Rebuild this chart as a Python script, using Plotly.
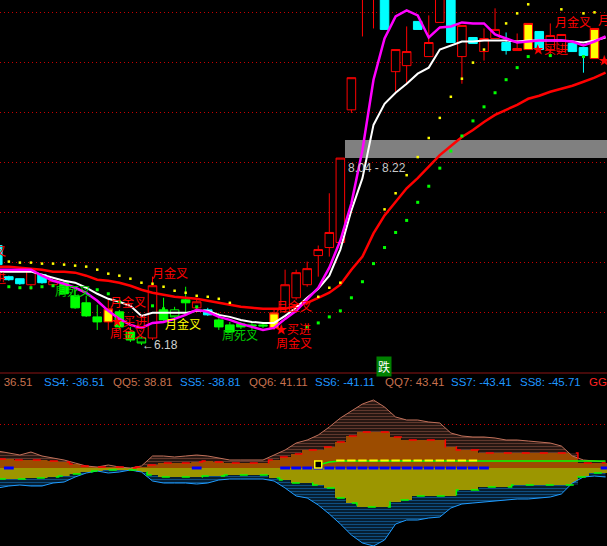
import plotly.graph_objects as go

# ---------------- data (index = bar number) ----------------
idx = list(range(56))

opens = [7.17, 6.86, 6.84, 6.78, 6.88, 6.78, 6.80, 6.67, 6.60, 6.46,
         6.41, 6.51, 6.31, 6.25, 6.25, 6.53, 6.53, 6.63, 6.55, 6.53,
         6.43, 6.38, 6.39, 6.38, 6.38, 6.35, 6.51, 6.65, 6.78, 7.07,
         7.15, 7.20, 8.52, 9.65, 9.70, 9.90, 8.90, 8.96, 9.40, 9.05,
         9.39, 9.75, 9.05, 9.24, 9.10, 9.23, 9.19, 9.11, 9.12, 9.30,
         9.12, 9.10, 9.18, 9.14, 9.03, None]
highs = [7.17, 6.87, 6.84, 6.92, 6.89, 6.83, 6.82, 6.73, 6.67, 6.58,
         6.63, 6.53, 6.36, 6.27, 6.86, 6.65, 6.56, 6.76, 6.63, 6.55,
         6.50, 6.41, 6.41, 6.41, 6.41, 6.53, 6.93, 6.93, 7.01, 7.17,
         7.69, 8.04, 8.84, 9.72, 9.95, 10.00, 9.12, 9.35, 9.40, 9.46,
         9.70, 9.80, 9.36, 9.24, 9.33, 9.53, 9.29, 9.28, 9.38, 9.30,
         9.38, 9.27, 9.18, 9.14, 9.33, None]
lows = [6.98, 6.82, 6.78, 6.73, 6.79, 6.77, 6.68, 6.54, 6.46, 6.33,
        6.33, 6.33, 6.21, 6.18, 6.23, 6.42, 6.45, 6.50, 6.53, 6.47,
        6.33, 6.30, 6.34, 6.33, 6.35, 6.33, 6.50, 6.63, 6.76, 6.86,
        7.06, 7.19, 8.49, 9.25, 9.33, 9.32, 8.70, 8.79, 9.32, 9.05,
        9.39, 9.19, 8.78, 9.18, 9.01, 9.23, 9.07, 9.11, 9.12, 9.12,
        9.05, 9.10, 9.10, 8.89, 9.03, None]
closes = [6.98, 6.83, 6.79, 6.92, 6.80, 6.82, 6.69, 6.55, 6.47, 6.41,
          6.54, 6.36, 6.23, 6.20, 6.77, 6.43, 6.46, 6.60, 6.61, 6.48,
          6.36, 6.31, 6.36, 6.37, 6.37, 6.50, 6.78, 6.90, 6.94, 7.13,
          7.30, 8.04, 8.84, 9.72, 9.85, 9.32, 9.12, 9.10, 9.32, 9.19,
          9.68, 9.19, 9.36, 9.18, 9.23, 9.32, 9.11, 9.13, 9.38, 9.12,
          9.26, 9.27, 9.10, 9.06, 9.33, None]
kinds = ['c', 'c', 'c', 'r', 'c', 'r', 'g', 'g', 'g', 'g',
         'y', 'g', 'g', 'gh', 'r', 'g', 'gh', 'g', 'r', 'c',
         'g', 'g', 'g', 'g', 'g', 'y', 'r', 'r', 'r', 'r',
         'r', 'r', 'r', 'r', 'r', 'c', 'r', 'r', 'c', 'r',
         'r', 'c', 'r', 'c', 'r', 'r', 'c', 'r', 'y', 'c',
         'r', 'r', 'c', 'c', 'y', None]

ma_fast = [6.93, 6.93, 6.93, 6.93, 6.87, 6.82, 6.79, 6.75, 6.70, 6.62,
           6.52, 6.44, 6.38, 6.35, 6.40, 6.41, 6.44, 6.48, 6.53, 6.51,
           6.46, 6.43, 6.39, 6.36, 6.33, 6.35, 6.44, 6.52, 6.63, 6.75,
           6.95, 7.22, 7.59, 8.12, 8.82, 9.23, 9.45, 9.51, 9.46, 9.24,
           9.34, 9.35, 9.39, 9.38, 9.38, 9.27, 9.23, 9.19, 9.20, 9.21,
           9.21, 9.21, 9.20, 9.16, 9.20, 9.25]
ma_mid = [6.91, 6.91, 6.91, 6.91, 6.88, 6.85, 6.82, 6.80, 6.75, 6.69,
          6.64, 6.61, 6.57, 6.47, 6.50, 6.50, 6.50, 6.50, 6.52, 6.52,
          6.48, 6.46, 6.43, 6.41, 6.40, 6.40, 6.47, 6.55, 6.65, 6.74,
          6.87, 7.13, 7.52, 7.84, 8.37, 8.58, 8.69, 8.78, 8.88, 8.94,
          9.12, 9.16, 9.20, 9.20, 9.21, 9.21, 9.21, 9.20, 9.21, 9.21,
          9.21, 9.21, 9.20, 9.19, 9.21, 9.24]
ma_slow = [6.96, 6.96, 6.95, 6.94, 6.93, 6.91, 6.91, 6.90, 6.87, 6.83,
           6.82, 6.80, 6.77, 6.73, 6.70, 6.68, 6.66, 6.65, 6.64, 6.62,
           6.60, 6.58, 6.56, 6.55, 6.54, 6.54, 6.54, 6.57, 6.60, 6.65,
           6.70, 6.78, 6.93, 7.06, 7.29, 7.47, 7.61, 7.74, 7.84, 7.95,
           8.07, 8.16, 8.25, 8.32, 8.40, 8.47, 8.52, 8.57, 8.63, 8.66,
           8.70, 8.73, 8.76, 8.80, 8.84, 8.89]

dots_yellow = [None, 7.01, 7.00, 7.00, 6.99, 6.99, 6.98, 6.97, 6.96, 6.93,
               6.89, 6.87, 6.84, 6.80, 6.79, 6.76, 6.72, 6.70, 6.67, 6.66,
               6.64, 6.60, None, None, None, None, None, None, None, 6.66,
               6.75, 6.80, None, None, None, 7.53, 7.69, 7.87, 8.05, 8.24,
               8.44, 8.65, 8.83, 8.99, 9.12, None, 9.38, 9.48, 9.57, None,
               None, 9.52, None, 9.48, 9.49, None]
dots_green = [None, 6.76, 6.75, 6.75, 6.76, 6.77, None, None, None, 6.73,
              6.69, 6.61, None, None, 6.57, 6.54, None, None, 6.56, None,
              None, None, None, None, None, None, None, None, 6.36, 6.40,
              6.46, 6.52, 6.65, 6.81, 6.99, 7.15, 7.30, 7.42, 7.60, 7.76,
              7.94, 8.11, 8.26, 8.41, 8.55, 8.69, 8.82, 8.94, 9.05, None,
              9.06, None, None, 9.05, None, None]

band_low = 8.04
band_high = 8.22
low_price = 6.18

# lower indicator panel
bar_up = [9, 9, 8, 8, 8, 7, 6, 4, 2, 1,
          1, 1, 0, 1, 3, 5, 5, 5, 6, 7,
          6, 5, 5, 5, 5, 8, 11, 14, 18, 18,
          21, 26, 32, 36, 36, 36, 31, 28, 28, 28,
          28, 21, 18, 18, 15, 15, 15, 15, 15, 15,
          15, 15, 15, 5, 5, 5]
bar_dn = [-11, -11, -11, -10, -10, -9, -8, -6, -4, -3,
          -2, -2, -2, -4, -7, -9, -9, -9, -9, -8,
          -8, -7, -7, -7, -7, -10, -12, -15, -15, -17,
          -20, -30, -35, -39, -39, -39, -34, -32, -28, -28,
          -28, -28, -22, -22, -19, -19, -19, -17, -17, -17,
          -17, -17, -17, -9, -5, -5]
env_up = [17, 15, 13, 16, 12, 10, 8, 5, 2, 1,
          3, 1, 0, 2, 12, 12, 11, 12, 13, 12,
          10, 8, 8, 8, 8, 13, 18, 25, 28, 33,
          41, 50, 57, 64, 68, 61, 51, 48, 48, 46,
          45, 35, 32, 31, 31, 30, 28, 28, 27, 26,
          25, 22, 12, 8, 7, 6]
env_dn = [-20, -18, -17, -18, -18, -15, -14, -9, -5, -3,
          -5, -4, -2, -4, -13, -15, -15, -15, -16, -15,
          -12, -11, -11, -11, -11, -13, -20, -28, -30, -37,
          -46, -56, -67, -75, -78, -72, -56, -52, -52, -50,
          -49, -40, -36, -35, -34, -33, -32, -31, -31, -30,
          -29, -26, -15, -9, -8, -9]
sig_line = [None, None, None, None, None, None, None, None, None, None,
            None, None, None, None, None, None, None, None, None, None,
            None, None, None, None, None, None, None, None, None, 3,
            6, 7, 7, 7, 7, 7, 7, 7, 7, 7,
            7, 7, 7, 7, 7, 7, 7, 7, 7, 7,
            7, 7, 7, 7, 7, 7]
sig_marks = [None, None, None, None, None, None, None, None, None, None,
             None, None, None, None, None, None, None, None, None, None,
             None, None, None, None, None, None, None, None, None, None,
             None, 7.5, 7.5, 7.5, 7.5, 7.5, 7.5, 7.5, 7.5, 7.5,
             7.5, 7.5, 7.5, 7.5, None, None, None, None, None, None,
             None, None, None, None, None, None]
zero_marks = [None, 0, None, None, None, None, None, None, None, None,
              None, None, None, None, None, None, None, None, 0, None,
              None, None, None, None, None, None, 0, 0, 0, 0,
              0, 0, 0, 0, 0, 0, 0, 0, 0, 0,
              0, 0, 0, 0, 0, None, None, None, None, None,
              None, None, None, None, None, 0]
cross_box = [None, None, None, None, None, None, None, None, None, None,
             None, None, None, None, None, None, None, None, None, None,
             None, None, None, None, None, None, None, None, None, 3.5,
             None, None, None, None, None, None, None, None, None, None,
             None, None, None, None, None, None, None, None, None, None,
             None, None, None, None, None, None]

ind_names = ["QQ4", "SS4", "QQ5", "SS5", "QQ6", "SS6", "QQ7", "SS7", "SS8", "GG"]
ind_values = ["36.51", "-36.51", "38.81", "-38.81", "41.11", "-41.11",
              "43.41", "-43.41", "-45.71", ""]

# ---------------- figure ----------------
fig = go.Figure()

styles = {
    'r': ('#ff0000', '#000000'),
    'c': ('#00ffff', '#00ffff'),
    'g': ('#00ff00', '#00ff00'),
    'gh': ('#00ff00', '#000000'),
    'y': ('#ff0000', '#ffff00'),
}
for k, (lc, fc) in styles.items():
    sel = [kk == k for kk in kinds]
    fig.add_trace(go.Candlestick(
        x=idx,
        open=[v if s else None for v, s in zip(opens, sel)],
        high=[v if s else None for v, s in zip(highs, sel)],
        low=[v if s else None for v, s in zip(lows, sel)],
        close=[v if s else None for v, s in zip(closes, sel)],
        increasing=dict(line=dict(color=lc, width=1), fillcolor=fc),
        decreasing=dict(line=dict(color=lc, width=1), fillcolor=fc),
        whiskerwidth=0, hoverinfo='skip', showlegend=False,
        xaxis='x', yaxis='y'))

for data, col, w in [(ma_slow, '#ff0000', 2.5), (ma_mid, '#ffffff', 2), (ma_fast, '#ff00ff', 2.5)]:
    fig.add_trace(go.Scatter(x=idx, y=data, mode='lines', line=dict(color=col, width=w),
                             hoverinfo='skip', showlegend=False, xaxis='x', yaxis='y'))

fig.add_trace(go.Scatter(x=idx, y=dots_yellow, mode='markers',
                         marker=dict(symbol='square', size=2.5, color='#ffff00'),
                         hoverinfo='skip', showlegend=False, xaxis='x', yaxis='y'))
fig.add_trace(go.Scatter(x=idx, y=dots_green, mode='markers',
                         marker=dict(symbol='square', size=3, color='#00ff00'),
                         hoverinfo='skip', showlegend=False, xaxis='x', yaxis='y'))

# lower panel
fig.add_trace(go.Bar(x=idx, y=bar_up, width=1, marker=dict(color='#9c4c00', line=dict(width=0)),
                     hoverinfo='skip', showlegend=False, xaxis='x2', yaxis='y2'))
fig.add_trace(go.Bar(x=idx, y=bar_dn, width=1, marker=dict(color='#9c9600', line=dict(width=0)),
                     hoverinfo='skip', showlegend=False, xaxis='x2', yaxis='y2'))

salmon = '#c0705a'
blue = '#1e9bff'
fig.add_trace(go.Scatter(x=idx, y=bar_up, mode='lines', line=dict(width=0, shape='hvh', color=salmon),
                         hoverinfo='skip', showlegend=False, xaxis='x2', yaxis='y2'))
fig.add_trace(go.Scatter(x=idx, y=env_up, mode='lines', line=dict(width=1, color=salmon),
                         fill='tonexty', fillcolor='rgba(0,0,0,0)',
                         fillpattern=dict(shape='-', fgcolor=salmon, bgcolor='#000000', size=3, solidity=0.6),
                         hoverinfo='skip', showlegend=False, xaxis='x2', yaxis='y2'))
fig.add_trace(go.Scatter(x=idx, y=bar_dn, mode='lines', line=dict(width=0, shape='hvh', color=blue),
                         hoverinfo='skip', showlegend=False, xaxis='x2', yaxis='y2'))
fig.add_trace(go.Scatter(x=idx, y=env_dn, mode='lines', line=dict(width=1, color=blue),
                         fill='tonexty', fillcolor='rgba(0,0,0,0)',
                         fillpattern=dict(shape='-', fgcolor=blue, bgcolor='#000000', size=3, solidity=0.6),
                         hoverinfo='skip', showlegend=False, xaxis='x2', yaxis='y2'))

fig.add_trace(go.Scatter(x=idx, y=bar_up, mode='lines',
                         line=dict(width=1.5, shape='hvh', color='#ff0000', dash='8px,10px'),
                         hoverinfo='skip', showlegend=False, xaxis='x2', yaxis='y2'))
fig.add_trace(go.Scatter(x=idx, y=bar_dn, mode='lines',
                         line=dict(width=1.5, shape='hvh', color='#00ff00', dash='8px,12px'),
                         hoverinfo='skip', showlegend=False, xaxis='x2', yaxis='y2'))
fig.add_trace(go.Scatter(x=idx, y=sig_line, mode='lines', line=dict(width=1.5, color='#00ff00'),
                         hoverinfo='skip', showlegend=False, xaxis='x2', yaxis='y2'))
fig.add_trace(go.Scatter(x=idx, y=sig_marks, mode='markers',
                         marker=dict(symbol='line-ew', size=6, line=dict(width=2, color='#ffff00')),
                         hoverinfo='skip', showlegend=False, xaxis='x2', yaxis='y2'))
fig.add_trace(go.Scatter(x=idx, y=zero_marks, mode='markers',
                         marker=dict(symbol='line-ew', size=7, line=dict(width=3, color='#0000ff')),
                         hoverinfo='skip', showlegend=False, xaxis='x2', yaxis='y2'))
fig.add_trace(go.Scatter(x=idx, y=cross_box, mode='markers',
                         marker=dict(symbol='square', size=7, color='#000000',
                                     line=dict(width=1.5, color='#ffff00')),
                         hoverinfo='skip', showlegend=False, xaxis='x2', yaxis='y2'))

# ---------------- layout ----------------
W, H = 607, 546
y_top_price = 9.613
y_bot_price = 5.9315
grid_vals = [6.5086 + k * 0.4975 for k in range(7)]

fig.update_layout(
    width=W, height=H, margin=dict(l=0, r=0, t=0, b=0),
    paper_bgcolor='#000000', plot_bgcolor='#000000',
    showlegend=False, hovermode=False,
    boxgap=0.12, boxgroupgap=0.12,
    barmode='overlay', bargap=0,
    xaxis=dict(range=[0.2, 55.13], visible=False, rangeslider=dict(visible=False),
               domain=[0, 1], anchor='y'),
    xaxis2=dict(range=[0.2, 55.13], visible=False, matches='x',
                rangeslider=dict(visible=False), domain=[0, 1], anchor='y2'),
    yaxis=dict(domain=[1 - 370 / H, 1], range=[y_bot_price, y_top_price],
               showticklabels=False, zeroline=False, ticks='',
               tickmode='array', tickvals=grid_vals, showgrid=True,
               gridcolor='#c80000', griddash='1px,3px', gridwidth=1),
    yaxis2=dict(domain=[0, 1 - 388 / H], range=[-78, 80],
                showticklabels=False, zeroline=False, ticks='',
                tickmode='array', tickvals=[44], showgrid=True,
                gridcolor='#c80000', griddash='1px,3px', gridwidth=1),
)

shapes = [
    dict(type='rect', xref='x', yref='y', x0=31.42, x1=60, y0=band_low, y1=band_high,
         fillcolor='#808080', line=dict(width=0), layer='below'),
    dict(type='line', xref='paper', yref='paper', x0=0, x1=1,
         y0=1 - 373 / H, y1=1 - 373 / H, line=dict(color='#8c1414', width=1)),
]
fig.update_layout(shapes=shapes)

cjk = "Noto Sans CJK SC"
ann = []
signals = [
    ("月金叉", '#ff0000', 13.77, 6.90, 'left'),
    ("月金叉", '#ff0000', 9.97, 6.61, 'left'),
    ("★买进", '#ff0000', 10.05, 6.42, 'left'),
    ("周金叉", '#ff0000', 9.97, 6.30, 'left'),
    ("月金叉", '#ffff00', 14.95, 6.39, 'left'),
    ("周死叉", '#00d000', 5.0, 6.72, 'left'),
    ("周死叉", '#00d000', 20.1, 6.28, 'left'),
    ("月金叉", '#ff0000', 25.0, 6.57, 'left'),
    ("★买进", '#ff0000', 24.9, 6.34, 'left'),
    ("周金叉", '#ff0000', 25.0, 6.21, 'left'),
    ("月金叉", '#ff0000', 50.25, 9.40, 'left'),
    ("月金叉", '#ff0000', 54.14, 9.42, 'left'),
    ("★买进", '#ff0000', 48.16, 9.13, 'left'),
    ("★买进", '#ff0000', 54.14, 9.02, 'left'),
    ("月金叉", '#ff0000', 0.92, 7.12, 'right'),
    ("★买进", '#ff0000', 0.92, 6.85, 'right'),
]
for txt, col, xx, yy, anc in signals:
    ann.append(dict(text=txt, x=xx, y=yy, xref='x', yref='y', xanchor=anc, yanchor='middle',
                    showarrow=False, font=dict(family=cjk, size=12, color=col)))

ann.append(dict(text=f"{band_low:.2f} - {band_high:.2f}", x=31.5, y=7.94, xref='x', yref='y',
                xanchor='left', yanchor='middle', showarrow=False,
                font=dict(family='Liberation Sans', size=12, color='#c8c8c8')))
ann.append(dict(text=f"←{low_price:.2f}", x=12.9, y=low_price, xref='x', yref='y',
                xanchor='left', yanchor='middle', showarrow=False,
                font=dict(family='Liberation Sans', size=12, color='#d0d0d0')))
ann.append(dict(text="跌", x=384 / W, y=1 - 366 / H, xref='paper', yref='paper',
                xanchor='center', yanchor='middle', showarrow=False, bgcolor='#008000',
                borderpad=1, font=dict(family=cjk, size=12, color='#ffffff')))

ind_pos = [(34, 'right'), (42, 'left'), (111, 'left'), (178, 'left'), (247, 'left'),
           (313, 'left'), (383, 'left'), (449, 'left'), (518, 'left'), (587, 'left')]
for name, val, (px, anc) in zip(ind_names, ind_values, ind_pos):
    if name.startswith('QQ'):
        col = '#c8704e'
    elif name.startswith('SS'):
        col = '#1e96ff'
    else:
        col = '#ff2020'
    ann.append(dict(text=f"{name}: {val}", x=px / W, y=1 - 382 / H, xref='paper', yref='paper',
                    xanchor=anc, yanchor='middle', showarrow=False,
                    font=dict(family='Liberation Sans', size=11.5, color=col)))

fig.update_layout(annotations=ann)

fig.write_html("out.html", config={'displayModeBar': False},
               post_script="document.body.style.margin='0';document.body.style.background='#000';")
